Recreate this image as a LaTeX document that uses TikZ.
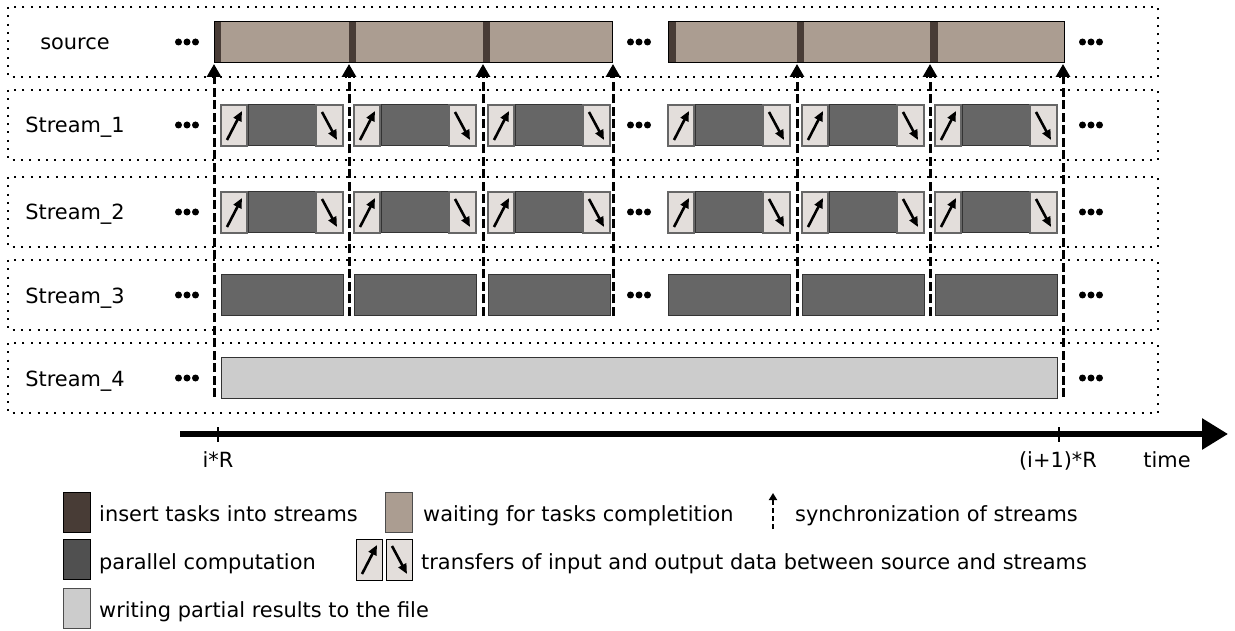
\documentclass[tikz,border=0pt]{standalone}
\usepackage{fontspec}
\setmainfont{DejaVu Sans}
\usetikzlibrary{arrows.meta,calc}
\definecolor{insertc}{HTML}{483C36}
\definecolor{waitc}{HTML}{AB9D91}
\definecolor{compc}{HTML}{666666}
\definecolor{legcompc}{HTML}{505050}
\definecolor{transc}{HTML}{E3DEDB}
\definecolor{writec}{HTML}{CCCCCC}
\definecolor{edgec}{HTML}{333333}
\tikzset{
  rowbox/.style={draw=black, line width=2pt, dash pattern=on 2pt off 6.3pt},
  blk/.style={inner sep=0pt, outer sep=0pt, minimum height=41pt},
  compbox/.style={blk, fill=compc, draw=edgec, line width=1pt},
  transbox/.style={blk, fill=transc, draw=black!60, line width=1.2pt, minimum width=26pt},
  writebox/.style={blk, fill=writec, draw=edgec, line width=1pt},
  tanbox/.style={blk, fill=waitc},
  insbox/.style={blk, fill=insertc},
  srcframe/.style={blk, draw=black, line width=1pt},
  tarr/.style={line width=2.6pt, -{Triangle[length=10pt,width=8.5pt]}},
  syncarr/.style={line width=3pt, dash pattern=on 9pt off 3.5pt, -{Triangle[length=13pt,width=14pt]}},
  rowlabel/.style={anchor=base, inner sep=0pt},
  legtext/.style={anchor=base west, inner sep=0pt},
  legsw/.style={inner sep=0pt, outer sep=0pt, minimum width=27pt, minimum height=40pt, draw=black, line width=1pt},
  dotc/.style={fill=black}
}
\begin{document}
\begin{tikzpicture}[x=1pt,y=-1pt,font=\fontsize{20.9}{24}\selectfont]
\useasboundingbox (0,0) rectangle (1235,631);

% row frames
\foreach \t [count=\r] in {7,90,177,260,343}{
  \draw[rowbox] (8,\t) rectangle (1158,\t+70);
}
% row labels
\node[rowlabel] (lsrc) at (75,50) {source};
\node[rowlabel] (ls1) at (75,133) {Stream\_1};
\node[rowlabel] (ls2) at (75,220) {Stream\_2};
\node[rowlabel] (ls3) at (75,303) {Stream\_3};
\node[rowlabel] (ls4) at (75,386) {Stream\_4};

% ellipsis dots
\foreach \yc in {42,125,212,295,378}{
  \foreach \xc in {187,639,1091}{
    \fill[dotc] (\xc-8.5,\yc) circle (3.5pt) (\xc,\yc) circle (3.5pt) (\xc+8.5,\yc) circle (3.5pt);
  }
}

% source bar
\foreach \a/\b [count=\k] in {221/349,356/483,490/612,676/797,804/930,938/1064}{
  \node[tanbox, minimum width=\b-\a] (tan\k) at ({(\a+\b)/2},42.5) {};
}
\foreach \a/\b [count=\k] in {214/221,349/356,483/490,668/676,797/804,930/938}{
  \node[insbox, minimum width=\b-\a] (ins\k) at ({(\a+\b)/2},42.5) {};
}
\node[srcframe, minimum width=398] (srcA) at (413,42.5) {};
\node[srcframe, minimum width=396] (srcB) at (866,42.5) {};

% streams 1 and 2
\foreach \s [count=\k] in {221,354,488,668,802,935}{
  \foreach \yc/\r in {125.5/1,212.5/2}{
    \node[transbox] (up\r-\k) at (\s+13,\yc) {};
    \node[compbox, minimum width=67] (cp\r-\k) at (\s+60.5,\yc) {};
    \node[transbox, minimum width=27] (dn\r-\k) at (\s+108.5,\yc) {};
    \draw[tarr] ($(up\r-\k.south west)+(6,-6)$) -- ($(up\r-\k.north west)+(21,6)$);
    \draw[tarr] ($(dn\r-\k.north west)+(6,7)$) -- ($(dn\r-\k.south west)+(21,-6)$);
  }
  \node[compbox, minimum width=122] (c3-\k) at (\s+61,295) {};
}
% stream 4
\node[writebox, minimum width=836] (w4) at (639,377.5) {};

% synchronization arrows
\foreach \x/\yb [count=\k] in {214/397,349/316,483/316,613/316,797/316,930/316,1063/397}{
  \coordinate (sb\k) at (\x,\yb);
  \coordinate (st\k) at (\x,64);
  \draw[syncarr] (sb\k) -- (st\k);
}

% time axis
\coordinate (t0) at (180,434);
\coordinate (t1) at (1228,434);
\draw[line width=6pt, -{Triangle[length=26pt,width=30pt]}] (t0) -- (t1);
\coordinate (tk1a) at (218,427); \coordinate (tk1b) at (218,442);
\coordinate (tk2a) at (1059,427); \coordinate (tk2b) at (1059,442);
\draw[line width=2.5pt] (tk1a) -- (tk1b);
\draw[line width=2.5pt] (tk2a) -- (tk2b);
\node[rowlabel] (lir) at (218,467) {i*R};
\node[rowlabel] (li1r) at (1058,467) {(i+1)*R};
\node[rowlabel] (ltime) at (1167,467) {time};

% legend
\node[legsw, fill=insertc] (lg1) at (76.5,512) {};
\node[legtext] (lt1) at (99,521) {insert tasks into streams};
\node[legsw, fill=waitc, draw=black!70] (lg2) at (399,512) {};
\node[legtext] (lt2) at (423,521) {waiting for tasks completition};
\coordinate (ls0) at (773,529);
\coordinate (ls1c) at (773,493);
\draw[line width=2pt, dash pattern=on 5pt off 3pt, -{Triangle[length=7pt,width=8pt]}] (ls0) -- (ls1c);
\node[legtext] (lt3) at (795,521) {synchronization of streams};

\node[legsw, fill=legcompc] (lg4) at (76.5,559.5) {};
\node[legtext] (lt4) at (99,569) {parallel computation};
\node[transbox, draw=black, line width=1pt] (lgu) at (369,559.5) {};
\node[transbox, draw=black, line width=1pt] (lgd) at (399,559.5) {};
\draw[tarr] ($(lgu.south west)+(6,-6)$) -- ($(lgu.north west)+(21,6)$);
\draw[tarr] ($(lgd.north west)+(6,7)$) -- ($(lgd.south west)+(21,-6)$);
\node[legtext] (lt5) at (421,569) {transfers of input and output data between source and streams};

\node[legsw, fill=writec, draw=black!70] (lg6) at (76.5,608.5) {};
\node[legtext] (lt6) at (99,617) {writing partial results to the file};
\end{tikzpicture}
\end{document}
